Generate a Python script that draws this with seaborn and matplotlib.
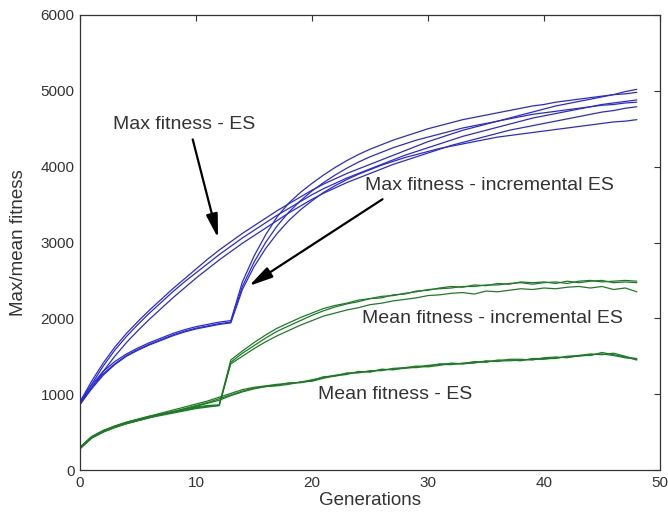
import matplotlib
matplotlib.use("Agg")
import matplotlib.pyplot as plt
import seaborn as sns
import pandas as pd

generations = list(range(49))

max_es_1 = [900,1170,1410,1620,1800,1960,2110,2250,2390,2520,2650,2780,2900,3010,3120,3220,3320,3420,3510,3600,3690,3770,3840,3910,3970,4030,4090,4150,4210,4270,4330,4380,4430,4480,4520,4560,4600,4640,4680,4720,4760,4800,4830,4860,4890,4920,4950,4990,5020]
max_es_2 = [880,1130,1370,1580,1760,1920,2070,2210,2350,2480,2600,2720,2840,2950,3060,3160,3260,3360,3450,3540,3630,3710,3780,3850,3910,3970,4030,4090,4150,4200,4250,4300,4350,4400,4440,4480,4520,4560,4600,4640,4670,4700,4730,4760,4790,4820,4840,4860,4880]
max_es_3 = [860,1080,1300,1500,1680,1840,1990,2130,2270,2400,2530,2650,2770,2880,2990,3090,3190,3290,3390,3480,3570,3650,3720,3790,3850,3910,3970,4030,4080,4130,4180,4230,4280,4320,4360,4400,4440,4480,4510,4540,4570,4600,4630,4660,4690,4720,4740,4770,4790]

max_inc_1 = [900,1120,1300,1430,1530,1610,1680,1740,1800,1850,1890,1920,1950,1970,2480,2820,3100,3340,3520,3660,3780,3890,3990,4080,4160,4230,4290,4350,4400,4450,4500,4540,4580,4620,4650,4680,4710,4740,4770,4800,4820,4850,4870,4890,4910,4930,4950,4960,4980]
max_inc_2 = [880,1090,1270,1400,1510,1590,1660,1720,1780,1830,1870,1900,1930,1950,2420,2740,3000,3220,3400,3550,3680,3790,3890,3980,4060,4130,4190,4250,4300,4350,4390,4430,4470,4510,4540,4570,4600,4630,4660,4690,4710,4730,4750,4770,4790,4810,4820,4840,4850]
max_inc_3 = [870,1070,1250,1390,1500,1580,1650,1710,1770,1820,1860,1890,1920,1940,2380,2680,2920,3120,3290,3430,3550,3660,3750,3830,3900,3960,4020,4070,4120,4160,4200,4240,4270,4300,4330,4360,4390,4410,4430,4450,4470,4490,4510,4530,4550,4570,4590,4600,4620]

mean_es_1 = [300,440,520,580,630,670,710,750,790,830,870,910,960,1010,1060,1090,1110,1130,1140,1160,1190,1220,1250,1270,1290,1300,1320,1330,1340,1360,1380,1390,1390,1410,1420,1430,1440,1440,1450,1460,1460,1480,1490,1500,1520,1530,1510,1480,1460]
mean_es_2 = [290,430,510,570,620,660,700,740,770,810,850,890,940,990,1040,1080,1100,1120,1150,1150,1180,1230,1240,1280,1280,1310,1310,1340,1350,1350,1370,1400,1400,1400,1430,1420,1450,1450,1440,1470,1470,1470,1500,1510,1510,1550,1520,1490,1470]
mean_es_3 = [280,420,500,560,610,650,690,730,760,800,840,880,920,980,1030,1070,1100,1110,1130,1160,1170,1210,1240,1260,1300,1290,1330,1320,1350,1370,1360,1380,1410,1400,1410,1440,1430,1460,1460,1450,1480,1490,1480,1510,1530,1520,1540,1500,1450]

mean_inc_1 = [300,440,520,580,630,670,710,740,770,800,830,850,860,1450,1570,1680,1780,1870,1940,2010,2070,2130,2170,2200,2240,2260,2290,2300,2330,2350,2380,2390,2400,2420,2420,2440,2440,2460,2470,2450,2470,2480,2460,2490,2500,2480,2490,2500,2490]
mean_inc_2 = [290,430,510,570,620,660,700,730,760,790,820,840,850,1420,1540,1640,1740,1830,1900,1970,2040,2100,2150,2190,2220,2260,2270,2310,2320,2360,2370,2400,2420,2410,2440,2430,2460,2450,2480,2470,2480,2460,2490,2470,2490,2500,2470,2480,2470]
mean_inc_3 = [280,420,500,560,610,650,690,720,750,780,810,830,850,1400,1500,1600,1690,1770,1840,1910,1970,2030,2070,2110,2140,2180,2200,2230,2250,2270,2300,2310,2330,2340,2320,2360,2350,2370,2390,2380,2400,2390,2410,2420,2400,2420,2380,2400,2350]

x_ticks = [0, 10, 20, 30, 40, 50]
y_ticks = [0, 1000, 2000, 3000, 4000, 5000, 6000]

series = {
    "max_es_1": max_es_1, "max_es_2": max_es_2, "max_es_3": max_es_3,
    "max_inc_1": max_inc_1, "max_inc_2": max_inc_2, "max_inc_3": max_inc_3,
    "mean_es_1": mean_es_1, "mean_es_2": mean_es_2, "mean_es_3": mean_es_3,
    "mean_inc_1": mean_inc_1, "mean_inc_2": mean_inc_2, "mean_inc_3": mean_inc_3,
}

BLUE = "#2a2ad8"
GREEN = "#1c7c24"
palette = {k: (BLUE if k.startswith("max") else GREEN) for k in series}

rows = []
for name, vals in series.items():
    for g, v in zip(generations, vals):
        rows.append({"gen": g, "value": v, "run": name})
df = pd.DataFrame(rows)

sns.set_style("white")
plt.rcParams["font.family"] = ["Liberation Sans", "DejaVu Sans"]

fig = plt.figure(figsize=(6.68, 5.16), dpi=100)
ax = fig.add_axes([80/668, 46/516, 580/668, 455/516])

sns.lineplot(data=df, x="gen", y="value", hue="run", palette=palette,
             linewidth=0.9, legend=False, ax=ax, estimator=None)

ax.set_xlim(0, 50)
ax.set_ylim(0, 6000)
ax.set_xticks(x_ticks)
ax.set_yticks(y_ticks)
ax.tick_params(direction="in", length=4, width=0.8, top=True, right=True,
               labelsize=11, colors="#333333", pad=4)
for s in ax.spines.values():
    s.set_color("#333333")
    s.set_linewidth(0.9)

ax.set_xlabel("Generations", fontsize=13.5, color="#333333", labelpad=2)
ax.set_ylabel("Max/mean fitness", fontsize=13.5, color="#333333", labelpad=10)

tc = "#333333"
arrow = dict(arrowstyle="-|>,head_width=0.22,head_length=0.9",
             color="black", lw=1.6, mutation_scale=16, shrinkA=2, shrinkB=0)
ax.annotate("Max fitness - ES", xy=(11.9, 3060), xytext=(2.84, 4550),
            fontsize=14, color=tc, va="center", ha="left",
            arrowprops=dict(arrow, relpos=(0.55, 0.0)))
ax.annotate("Max fitness - incremental ES", xy=(14.57, 2427), xytext=(24.57, 3746),
            fontsize=14, color=tc, va="center", ha="left",
            arrowprops=dict(arrow, relpos=(0.1, 0.0)))
ax.text(24.3, 1992, "Mean fitness - incremental ES", fontsize=14, color=tc,
        va="center", ha="left")
ax.text(20.5, 990, "Mean fitness - ES", fontsize=14, color=tc,
        va="center", ha="left")

fig.savefig("out.png", dpi=100)
